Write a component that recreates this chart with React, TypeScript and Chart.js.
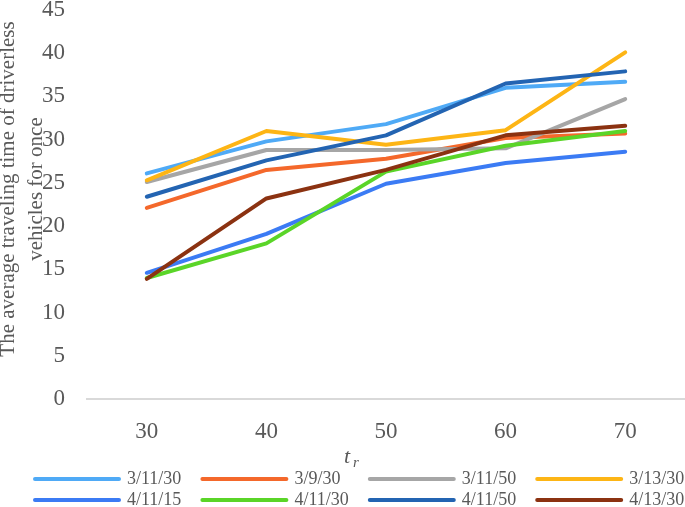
import React, { useEffect, useRef } from "react";
import { Chart, registerables } from "chart.js";

Chart.register(...registerables);

const categories = ["30", "40", "50", "60", "70"];
const seriesLabels = ["3/11/30", "3/9/30", "3/11/50", "3/13/30", "4/11/15", "4/11/30", "4/11/50", "4/13/30"];
const s3_11_30 = [26.1, 29.8, 31.8, 36.0, 36.7];
const s3_9_30 = [22.1, 26.5, 27.8, 30.2, 30.7];
const s3_11_50 = [25.1, 28.8, 28.8, 29.0, 34.7];
const s3_13_30 = [25.3, 31.0, 29.4, 31.1, 40.1];
const s4_11_15 = [14.6, 19.1, 24.9, 27.3, 28.6];
const s4_11_30 = [14.0, 18.0, 26.3, 29.3, 31.0];
const s4_11_50 = [23.4, 27.6, 30.5, 36.5, 37.9];
const s4_13_30 = [13.9, 23.2, 26.5, 30.5, 31.6];
const seriesValues = [s3_11_30, s3_9_30, s3_11_50, s3_13_30, s4_11_15, s4_11_30, s4_11_50, s4_13_30];
const colors = ["#4FAAF6", "#F4682B", "#A6A6A6", "#FDB515", "#3B7BF4", "#5AD528", "#2364B2", "#8B3211"];

const yTitleLines = ["The average traveling time of driverless", "vehicles for once"];
const FONT = "'Liberation Serif', 'Times New Roman', serif";
const TEXT = "#595959";

const decorPlugin = {
  id: "decor",
  afterDraw(chart: any) {
    const ctx = chart.ctx;
    ctx.save();
    ctx.fillStyle = TEXT;
    // y title
    ctx.save();
    ctx.translate(0, 189);
    ctx.rotate(-Math.PI / 2);
    ctx.font = `21px ${FONT}`;
    ctx.textAlign = "center";
    ctx.textBaseline = "alphabetic";
    ctx.fillText(yTitleLines[0], 0, 14);
    ctx.fillText(yTitleLines[1], 0, 42);
    ctx.restore();
    // x title t_r
    ctx.font = `italic 22px ${FONT}`;
    ctx.textAlign = "left";
    ctx.textBaseline = "alphabetic";
    ctx.fillText("t", 344, 463);
    ctx.font = `italic 15px ${FONT}`;
    ctx.fillText("r", 353, 467);
    // legend
    ctx.font = `18px ${FONT}`;
    ctx.textBaseline = "middle";
    chart.data.datasets.forEach((ds: any, i: number) => {
      const col = i % 4;
      const row = Math.floor(i / 4);
      const x = 35 + col * 167.4;
      const y = 479 + row * 21;
      ctx.strokeStyle = ds.borderColor;
      ctx.lineWidth = 4;
      ctx.lineCap = "round";
      ctx.beginPath();
      ctx.moveTo(x, y);
      ctx.lineTo(x + 84, y);
      ctx.stroke();
      ctx.fillStyle = TEXT;
      ctx.fillText(ds.label, x + 92, y);
    });
    ctx.restore();
  },
};

export default function App() {
  const ref = useRef<HTMLCanvasElement | null>(null);
  useEffect(() => {
    if (!ref.current) return;
    const chart = new Chart(ref.current, {
      type: "line",
      data: {
        labels: categories,
        datasets: seriesValues.map((vals, i) => ({
          label: seriesLabels[i],
          data: vals,
          borderColor: colors[i],
          backgroundColor: colors[i],
          borderWidth: 4,
          pointRadius: 0,
          borderCapStyle: "round",
          borderJoinStyle: "round",
          tension: 0,
          order: -i,
        })),
      },
      options: {
        animation: false,
        responsive: true,
        maintainAspectRatio: false,
        layout: { padding: { top: 10, left: 0, right: 0, bottom: 0 } },
        plugins: { legend: { display: false }, tooltip: { enabled: false }, title: { display: false } },
        scales: {
          x: {
            type: "category",
            offset: true,
            grid: { display: false, drawTicks: false },
            border: { display: true, color: "#D9D9D9", width: 2 },
            ticks: { color: TEXT, font: { family: FONT, size: 23 }, padding: 19, maxRotation: 0 },
            afterFit(scale: any) {
              scale.height = 108;
            },
          },
          y: {
            min: 0,
            max: 45,
            grid: { display: false, drawTicks: false },
            border: { display: false },
            ticks: { stepSize: 5, color: TEXT, font: { family: FONT, size: 23 }, padding: 22 },
            afterFit(scale: any) {
              scale.width = 87;
              scale.paddingTop = 0;
              scale.paddingBottom = 0;
            },
          },
        },
      },
      plugins: [decorPlugin],
    });
    return () => chart.destroy();
  }, []);
  return (
    <div style={{ position: "absolute", left: 0, top: 0, width: 685, height: 507, background: "#fff" }}>
      <canvas ref={ref} />
    </div>
  );
}
